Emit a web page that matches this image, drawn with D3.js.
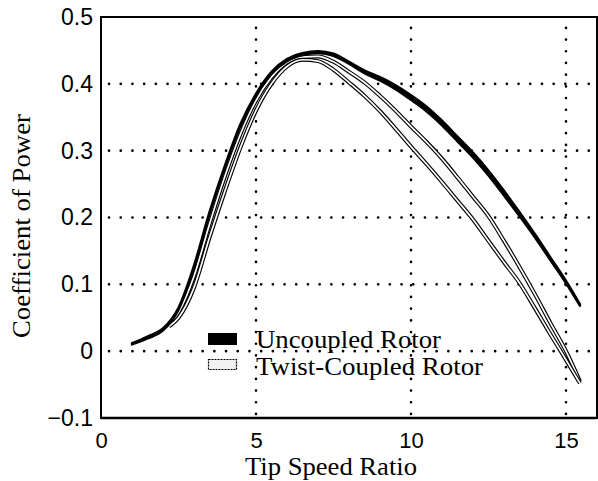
<!DOCTYPE html>
<html>
<head>
<meta charset="utf-8">
<script src="https://cdn.jsdelivr.net/npm/d3@7"></script>
<style>
  html, body { margin: 0; padding: 0; background: #fff; }
  svg { display: block; }
</style>
</head>
<body>
<svg id="chart" width="598" height="481"></svg>
<script>
// ---- data ----
const uncoupledTSR = [1.0, 1.5, 2.0, 2.5, 3.0, 3.5, 4.0, 4.5, 5.0, 5.5, 6.0, 6.5, 7.0, 7.5, 8.0, 8.5, 9.0, 9.5, 10.0, 10.5, 11.0, 11.5, 12.0, 12.5, 13.0, 13.5, 14.0, 14.5, 15.0, 15.45];
const uncoupledHigh = [0.012, 0.022, 0.034, 0.065, 0.128, 0.208, 0.278, 0.340, 0.385, 0.418, 0.437, 0.446, 0.449, 0.445, 0.433, 0.420, 0.410, 0.398, 0.383, 0.366, 0.345, 0.321, 0.297, 0.270, 0.240, 0.208, 0.175, 0.140, 0.105, 0.070];
const uncoupledLow  = [0.010, 0.019, 0.031, 0.062, 0.125, 0.205, 0.275, 0.337, 0.382, 0.415, 0.434, 0.443, 0.446, 0.442, 0.430, 0.416, 0.405, 0.392, 0.376, 0.359, 0.338, 0.314, 0.290, 0.263, 0.233, 0.202, 0.170, 0.136, 0.102, 0.068];

const twistTSR  = [2.2, 2.5, 3.0, 3.5, 4.0, 4.5, 5.0, 5.5, 6.0, 6.5, 7.0, 7.5, 8.0, 8.5, 9.0, 9.5, 10.0, 10.5, 11.0, 11.5, 12.0, 12.5, 13.0, 13.5, 14.0, 14.5, 15.0, 15.45];
const twistHigh = [0.040, 0.058, 0.112, 0.190, 0.262, 0.325, 0.375, 0.410, 0.432, 0.440, 0.441, 0.433, 0.418, 0.402, 0.382, 0.360, 0.336, 0.313, 0.288, 0.260, 0.231, 0.202, 0.165, 0.126, 0.085, 0.042, 0.000, -0.045];
const twistLow  = [0.037, 0.050, 0.095, 0.170, 0.240, 0.305, 0.360, 0.400, 0.426, 0.436, 0.434, 0.421, 0.402, 0.382, 0.359, 0.333, 0.306, 0.280, 0.253, 0.225, 0.197, 0.165, 0.133, 0.102, 0.064, 0.025, -0.013, -0.048];

const xTicks = [0, 5, 10, 15];
const xTickLabels = ["0", "5", "10", "15"];
const yTicks = [-0.1, 0, 0.1, 0.2, 0.3, 0.4, 0.5];
const yTickLabels = ["\u22120.1", "0", "0.1", "0.2", "0.3", "0.4", "0.5"];
const xGrid = [5, 10, 15];
const yGrid = [0, 0.1, 0.2, 0.3, 0.4];
const seriesNames = ["Uncoupled Rotor", "Twist-Coupled Rotor"];
const xTitle = "Tip Speed Ratio";
const yTitle = "Coefficient of Power";

// ---- layout ----
const svg = d3.select("#chart");
const pL = 101, pR = 597, pT = 17, pB = 418;
const x = d3.scaleLinear().domain([0, 16]).range([pL, pR]);
const y = d3.scaleLinear().domain([-0.1, 0.5]).range([pB, pT]);
const sans = "'Liberation Sans', Arial, Helvetica, sans-serif";
const serif = "'Liberation Serif', 'Times New Roman', Times, serif";

// grid
const grid = svg.append("g").attr("stroke", "#000").attr("stroke-width", 2.6)
  .attr("stroke-linecap", "round").attr("stroke-dasharray", "0.1 11.6").attr("fill", "none");
xGrid.forEach(v => grid.append("line").attr("x1", x(v)).attr("x2", x(v)).attr("y1", pB - 4).attr("y2", pT + 4));
yGrid.forEach(v => grid.append("line").attr("y1", y(v)).attr("y2", y(v)).attr("x1", pL + 8).attr("x2", pR));

// twist-coupled band
const twistData = twistTSR.map((t, i) => ({ t, hi: twistHigh[i], lo: twistLow[i] }));
const area = d3.area().x(d => x(d.t)).y0(d => y(d.lo)).y1(d => y(d.hi)).curve(d3.curveMonotoneX);
svg.append("path").datum(twistData).attr("d", area).attr("fill", "#fafafa");
["hi", "lo"].forEach(k => {
  const ln = d3.line().x(d => x(d.t)).y(d => y(d[k])).curve(d3.curveMonotoneX);
  svg.append("path").datum(twistData).attr("d", ln).attr("fill", "none").attr("stroke", "#000").attr("stroke-width", 4.0);
  svg.append("path").datum(twistData).attr("d", ln).attr("fill", "none").attr("stroke", "#fff").attr("stroke-width", 1.7);
});

// uncoupled band
const uncData = uncoupledTSR.map((t, i) => ({ t, hi: uncoupledHigh[i], lo: uncoupledLow[i] }));
const uArea = d3.area().x(d => x(d.t)).y0(d => y(d.lo)).y1(d => y(d.hi)).curve(d3.curveMonotoneX);
svg.append("path").datum(uncData).attr("d", uArea).attr("fill", "#000").attr("stroke", "#000")
  .attr("stroke-width", 2.4).attr("stroke-linejoin", "round");

// frame
svg.append("rect").attr("x", pL).attr("y", pT).attr("width", pR - pL).attr("height", pB - pT)
  .attr("fill", "none").attr("stroke", "#000").attr("stroke-width", 2);
svg.append("line").attr("x1", pL).attr("x2", pR).attr("y1", pB).attr("y2", pB).attr("stroke", "#000").attr("stroke-width", 2.6);

// axes
const xAxis = svg.append("g").attr("transform", `translate(0,${pB})`)
  .call(d3.axisBottom(x).tickValues(xTicks).tickSize(0).tickPadding(14).tickFormat((d, i) => xTickLabels[i]));
const yAxis = svg.append("g").attr("transform", `translate(${pL},0)`)
  .call(d3.axisLeft(y).tickValues(yTicks).tickSize(0).tickPadding(8).tickFormat((d, i) => yTickLabels[i]));
[xAxis, yAxis].forEach(a => {
  a.select(".domain").remove();
  a.selectAll("text").attr("font-family", sans).attr("font-size", 23).attr("fill", "#000");
});
xAxis.selectAll("text").attr("font-size", 22);

// titles
svg.append("text").attr("x", 331).attr("y", 475).attr("text-anchor", "middle")
  .attr("font-family", serif).attr("font-size", 25)
  .attr("textLength", 172).attr("lengthAdjust", "spacingAndGlyphs").text(xTitle);
svg.append("text").attr("transform", "translate(30,226) rotate(-90)").attr("text-anchor", "middle")
  .attr("font-family", serif).attr("font-size", 26)
  .attr("textLength", 224).attr("lengthAdjust", "spacingAndGlyphs").text(yTitle);

// legend
svg.append("rect").attr("x", 208).attr("y", 333).attr("width", 29).attr("height", 12).attr("fill", "#000");
svg.append("rect").attr("x", 208.5).attr("y", 359.5).attr("width", 28).attr("height", 10)
  .attr("fill", "#f2f2f2").attr("stroke", "#000").attr("stroke-width", 1.2).attr("stroke-dasharray", "2 1");
svg.append("text").attr("x", 256).attr("y", 348).attr("font-family", serif).attr("font-size", 25)
  .attr("textLength", 185).attr("lengthAdjust", "spacingAndGlyphs").text(seriesNames[0]);
svg.append("text").attr("x", 256).attr("y", 375).attr("font-family", serif).attr("font-size", 25)
  .attr("textLength", 227).attr("lengthAdjust", "spacingAndGlyphs").text(seriesNames[1]);
</script>
</body>
</html>
